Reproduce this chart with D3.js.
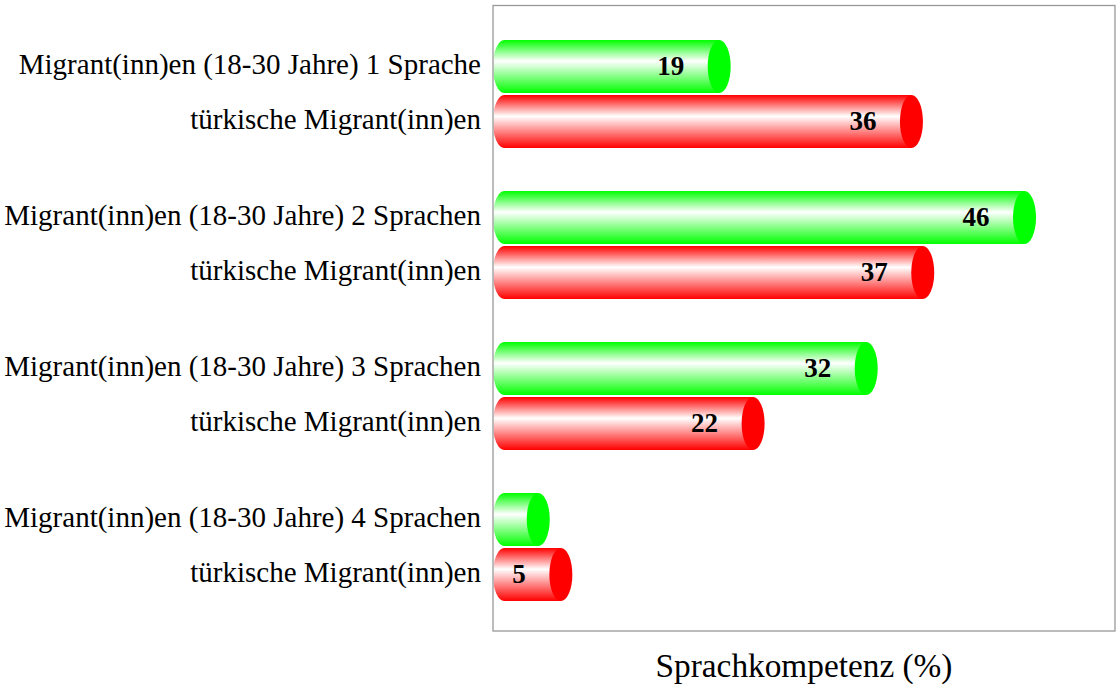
<!DOCTYPE html>
<html>
<head>
<meta charset="utf-8">
<script src="https://cdn.jsdelivr.net/npm/d3@7"></script>
<style>
  html, body { margin: 0; padding: 0; background: #fff; }
  svg { display: block; }
</style>
</head>
<body>
<script>
// ---- data ----
const groupLabels = [
  "Migrant(inn)en (18-30 Jahre) 1 Sprache",
  "Migrant(inn)en (18-30 Jahre) 2 Sprachen",
  "Migrant(inn)en (18-30 Jahre) 3 Sprachen",
  "Migrant(inn)en (18-30 Jahre) 4 Sprachen"
];
const secondLabel = "türkische Migrant(inn)en";
const migrantValues = [19, 46, 32, 3];
const turkishValues = [36, 37, 22, 5];
const seriesColors = ["#00ff00", "#ff0000"];
const xTitle = "Sprachkompetenz (%)";

// ---- layout ----
const W = 1116, H = 687;
const box = {x0: 493, x1: 1115, y0: 5.5, y1: 631};
const svg = d3.select("body").append("svg").attr("width", W).attr("height", H);

const x = d3.scaleLinear().domain([-1, 54]).range([box.x0, box.x1]);
const yGroup = d3.scaleBand().domain(d3.range(groupLabels.length)).range([18.5, 622.5]);
const ySub = d3.scaleBand().domain([0, 1]).range([-54.5, 54.5]).paddingInner(0.02);

const ry = 26.5, rx = 11.5;

const defs = svg.append("defs");
seriesColors.forEach((c, i) => {
  const g = defs.append("linearGradient").attr("id", "grad" + i)
    .attr("x1", 0).attr("y1", 0).attr("x2", 0).attr("y2", 1);
  g.append("stop").attr("offset", "0%").attr("stop-color", c);
  g.append("stop").attr("offset", "40%").attr("stop-color", "#ffffff");
  g.append("stop").attr("offset", "100%").attr("stop-color", c);
});
defs.append("clipPath").attr("id", "clip").append("rect")
  .attr("x", box.x0 + 0.5).attr("y", box.y0).attr("width", box.x1 - box.x0).attr("height", box.y1 - box.y0);

const rows = [];
groupLabels.forEach((lab, gi) => {
  rows.push({g: gi, s: 0, label: lab, v: migrantValues[gi]});
  rows.push({g: gi, s: 1, label: secondLabel, v: turkishValues[gi]});
});
const cy = d => yGroup(d.g) + yGroup.bandwidth() / 2 + ySub(d.s) + ySub.bandwidth() / 2;

const plot = svg.append("g").attr("clip-path", "url(#clip)");
const bar = plot.selectAll("g.bar").data(rows).join("g").attr("class", "bar");
bar.append("path")
  .attr("d", d => {
    const x0 = x(0), xv = x(d.v), y = cy(d);
    return `M${x0},${y - ry}L${xv},${y - ry}L${xv},${y + ry}L${x0},${y + ry}A${rx},${ry} 0 0 1 ${x0},${y - ry}Z`;
  })
  .attr("fill", d => `url(#grad${d.s})`);
bar.append("ellipse")
  .attr("cx", d => x(d.v)).attr("cy", cy)
  .attr("rx", rx).attr("ry", ry)
  .attr("fill", d => seriesColors[d.s]);
bar.filter(d => d.v >= 5).append("text")
  .attr("x", d => x(d.v) - 35).attr("y", d => cy(d) + 8.5)
  .attr("text-anchor", "end")
  .attr("font-family", "'Liberation Serif', serif").attr("font-weight", "bold")
  .attr("font-size", 27).attr("fill", "#000")
  .text(d => d.v);

// axis box
svg.append("rect")
  .attr("x", box.x0).attr("y", box.y0).attr("width", box.x1 - box.x0).attr("height", box.y1 - box.y0)
  .attr("fill", "none").attr("stroke", "#999").attr("stroke-width", 1.3);

// y labels
const yl = svg.append("g").selectAll("text").data(rows).join("text")
  .attr("x", 481).attr("y", d => cy(d) + 7.5)
  .attr("text-anchor", "end")
  .attr("font-family", "'Liberation Serif', serif")
  .attr("fill", "#000")
  .text(d => d.label);
// fit font size so longest label spans like the reference
yl.attr("font-size", 28);
const longest = yl.filter((d, i) => i === 2).node().getComputedTextLength();
const fs = 28 * 477 / longest;
yl.attr("font-size", fs);

// x title
const xt = svg.append("text")
  .attr("x", (box.x0 + box.x1) / 2).attr("y", 677)
  .attr("text-anchor", "middle")
  .attr("font-family", "'Liberation Serif', serif")
  .attr("font-size", 30).attr("fill", "#000")
  .text(xTitle);
const tw = xt.node().getComputedTextLength();
xt.attr("font-size", 30 * 297 / tw);
</script>
</body>
</html>
